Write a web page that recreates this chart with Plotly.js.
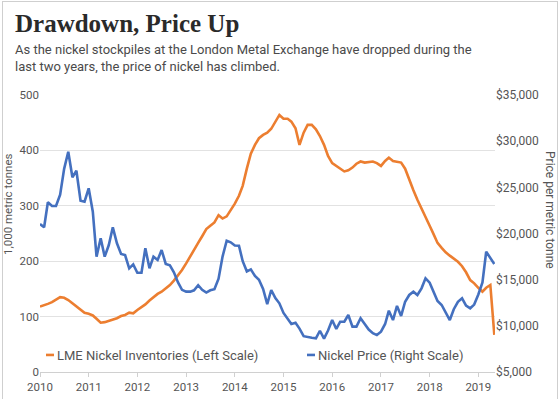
<!DOCTYPE html>
<html>
<head>
<meta charset="utf-8">
<script src="https://cdn.plot.ly/plotly-3.0.1.min.js"></script>
<style>
  html, body { margin:0; padding:0; background:#fff; }
  #wrap { position:relative; width:560px; height:399px; overflow:hidden; }
  #chart { width:560px; height:399px; }
  #frame { position:absolute; left:2px; top:1px; width:554px; height:400px; border:1px solid #cfcfcf; pointer-events:none; }
</style>
</head>
<body>
<div id="wrap"><div id="chart"></div><div id="frame"></div></div>
<script>
// Monthly observations, Jan 2010 – May 2019
const startYear = 2010;
const months = [];
for (let i = 0; i < 113; i++) {
  const y = startYear + Math.floor(i / 12), m = (i % 12) + 1;
  months.push(y + '-' + (m < 10 ? '0' + m : m) + '-01');
}

// LME nickel inventories, thousand metric tonnes (left scale)
const inventories = [
  118,120,123,126,131,135,134,130,124,118,112,107,
  105,102,96,89,90,92,94,97,101,103,107,106,
  112,117,122,129,135,141,145,151,157,165,174,184,
  196,208,221,233,245,258,264,270,283,277,281,292,
  304,318,336,367,394,410,422,428,432,439,452,464,
  457,457,452,440,410,432,446,446,438,426,410,390,
  377,372,367,362,364,369,376,380,378,379,380,377,
  372,381,387,381,380,378,367,346,328,311,296,279,
  264,248,233,224,216,210,204,199,191,180,166,160,
  152,145,152,157,67
];

// Nickel price, US$ per metric tonne (right scale)
const prices = [
  21030,20670,23380,22980,22980,24200,27000,28860,26090,26800,23550,23440,
  24890,22360,17490,19480,17490,18750,20670,18940,17780,17670,16230,16660,
  15750,15750,18400,16230,17490,17130,18210,16700,16550,15800,14700,13900,
  13700,13700,13850,14400,13900,13600,13850,13960,15100,17500,19220,19050,
  18700,18680,17000,15900,16120,15400,15000,14000,12360,13880,13000,12440,
  11400,10700,10200,10340,9700,8880,8760,8700,8640,9470,8610,9500,
  10630,9660,10450,10450,11170,9910,9910,10820,10200,9600,9200,9000,
  9370,10200,11640,10630,12150,11070,12610,13340,13700,13340,14060,15150,
  14670,13520,12700,12260,11500,10630,11800,12600,12980,12200,11900,12300,
  13400,14700,18030,17310,16700
];

const seriesNames = ['LME Nickel Inventories (Left Scale)', 'Nickel Price (Right Scale)'];
const titleText = 'Drawdown, Price Up';
const subtitleText = 'As the nickel stockpiles at the London Metal Exchange have dropped during the<br>last two years, the price of nickel has climbed.';
const leftTitle = '1,000 metric tonnes';
const rightTitle = 'Price per metric tonne';

const ORANGE = '#EC7E30', BLUE = '#4470BF';
const FONT = 'Roboto, "Noto Sans", sans-serif';

const data = [
  { x: months, y: inventories, type: 'scatter', mode: 'lines', name: seriesNames[0],
    line: { color: ORANGE, width: 2.6 }, yaxis: 'y', legend: 'legend' },
  { x: months, y: prices, type: 'scatter', mode: 'lines', name: seriesNames[1],
    line: { color: BLUE, width: 2.6 }, yaxis: 'y2', legend: 'legend2' }
];

const W = 455, H = 277; // plot area in px
function px(x) { return (x - 40) / W; }
function py(y) { return (372 - y) / H; }

const layout = {
  width: 560, height: 399,
  margin: { l: 40, r: 65, t: 95, b: 27 },
  paper_bgcolor: 'rgba(0,0,0,0)', plot_bgcolor: '#fff',
  font: { family: FONT, color: '#555', size: 12 },
  showlegend: true,
  xaxis: {
    type: 'date', range: ['2010-01-01', '2019-05-06'],
    tick0: '2010-01-01', dtick: 'M12', tickformat: '%Y',
    showgrid: false, zeroline: false, showline: true, linecolor: '#d0d0d0', linewidth: 1,
    ticks: 'outside', ticklen: 4, tickcolor: '#d0d0d0',
    tickfont: { family: FONT, size: 11.5, color: '#555' }
  },
  yaxis: {
    range: [0, 500], dtick: 100, tick0: 0,
    showgrid: true, gridcolor: '#e2e2e2', gridwidth: 1, zeroline: false, showline: false,
    ticks: '', tickfont: { family: FONT, size: 11.5, color: '#555' }
  },
  yaxis2: {
    overlaying: 'y', side: 'right', range: [5000, 35000], dtick: 5000, tick0: 5000,
    tickprefix: '$', tickformat: ',d', showgrid: false, zeroline: false, showline: false,
    ticks: '', tickfont: { family: FONT, size: 12, color: '#555' }
  },
  legend: {
    orientation: 'h', x: px(17), y: py(355), xanchor: 'left', yanchor: 'middle',
    bgcolor: 'rgba(0,0,0,0)', font: { family: FONT, size: 13, color: '#555' }
  },
  legend2: {
    orientation: 'h', x: px(278), y: py(355), xanchor: 'left', yanchor: 'middle',
    bgcolor: 'rgba(0,0,0,0)', font: { family: FONT, size: 13, color: '#555' }
  },
  annotations: [
    { text: '<b>' + titleText + '</b>', xref: 'paper', yref: 'paper', x: px(13), y: py(8),
      xanchor: 'left', yanchor: 'top', showarrow: false, align: 'left',
      font: { family: '"Liberation Serif", serif', size: 25, color: '#2a2a2a' } },
    { text: subtitleText, xref: 'paper', yref: 'paper', x: px(13), y: py(40),
      xanchor: 'left', yanchor: 'top', showarrow: false, align: 'left',
      font: { family: FONT, size: 13, color: '#4a4a4a' } },
    { text: leftTitle, xref: 'paper', yref: 'paper', x: px(8), y: py(205),
      xanchor: 'center', yanchor: 'middle', showarrow: false, textangle: -90,
      font: { family: FONT, size: 11.5, color: '#555' } },
    { text: rightTitle, xref: 'paper', yref: 'paper', x: px(550), y: py(210),
      xanchor: 'center', yanchor: 'middle', showarrow: false, textangle: 90,
      font: { family: FONT, size: 12, color: '#555' } }
  ]
};

const gd = document.getElementById('chart');
Plotly.newPlot(gd, data, layout, { displayModeBar: false, staticPlot: true }).then(function () {
  gd.querySelectorAll('.legendlines path').forEach(function (p) {
    p.setAttribute('d', 'M29,0h8');
  });
});
</script>
</body>
</html>
